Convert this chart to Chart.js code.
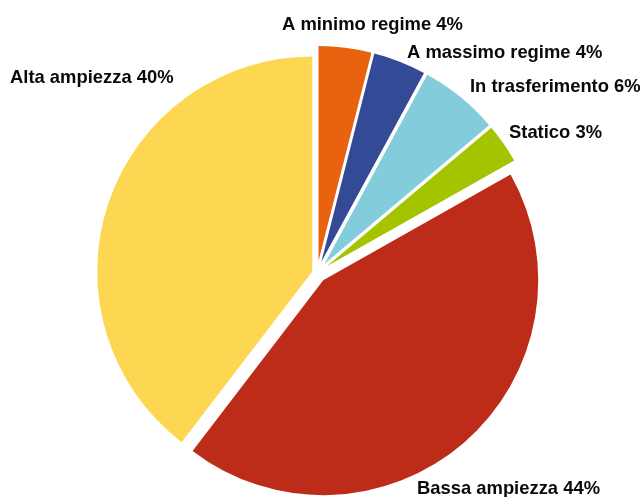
<!DOCTYPE html>
<html>
<head>
<meta charset="utf-8">
<script src="https://cdn.jsdelivr.net/npm/chart.js@4.4.1/dist/chart.umd.min.js"></script>
<style>
    body { margin: 0; background: #fff; }
    #wrap { width: 643px; height: 497px; }
</style>
</head>
<body>
<div id="wrap"><canvas id="PieChart" width="643" height="497"></canvas></div>
<script>
// Dati (in ordine orario partendo dalle ore 12)
var categories = ['A minimo regime', 'A massimo regime', 'In trasferimento', 'Statico', 'Bassa ampiezza', 'Alta ampiezza'];
var percentages = [4, 4, 6, 3, 44, 40];

// Stile
var sliceColors = ['#E9620F', '#344A96', '#82CCDC', '#A5C400', '#BC2C18', '#FDD652'];
var explodePx = [12, 12, 12, 12, 9.5, 5];
// posizione etichette: [x sinistra, linea di base]
var labelPos = [[282, 30], [407, 58], [470, 92], [509, 138], [417, 494], [10, 83]];

// sposta ogni fetta lungo la sua bisettrice
var explodePlugin = {
    id: 'explode',
    afterUpdate: function(chart){
        var arcs = chart.getDatasetMeta(0).data;
        for(var i = 0; i < arcs.length; i++){
            var mid = (arcs[i].startAngle + arcs[i].endAngle) / 2;
            arcs[i].x += explodePx[i] * Math.cos(mid);
            arcs[i].y += explodePx[i] * Math.sin(mid);
        }
    }
};

// etichette esterne "Nome NN%"
var labelPlugin = {
    id: 'sliceLabels',
    afterDatasetsDraw: function(chart){
        var ctx = chart.ctx;
        ctx.save();
        ctx.font = 'bold 18.4px "Liberation Sans", Arial, sans-serif';
        ctx.fillStyle = '#0a0a0a';
        ctx.textAlign = 'left';
        ctx.textBaseline = 'alphabetic';
        for(var i = 0; i < categories.length; i++){
            ctx.fillText(categories[i] + ' ' + percentages[i] + '%', labelPos[i][0], labelPos[i][1]);
        }
        ctx.restore();
    }
};

var pieChart = new Chart(document.getElementById('PieChart').getContext('2d'), {
    type: 'pie',
    data: {
        labels: categories,
        datasets: [
            {
                data: percentages,
                backgroundColor: sliceColors,
                borderWidth: 0
            }
        ]
    },
    options: {
        responsive: false,
        animation: false,
        radius: 215,
        layout: { padding: { left: 0, right: 9, top: 49, bottom: 0 } },
        plugins: {
            legend: { display: false },
            tooltip: { enabled: false }
        },
        events: []
    },
    plugins: [explodePlugin, labelPlugin]
});
</script>
</body>
</html>
